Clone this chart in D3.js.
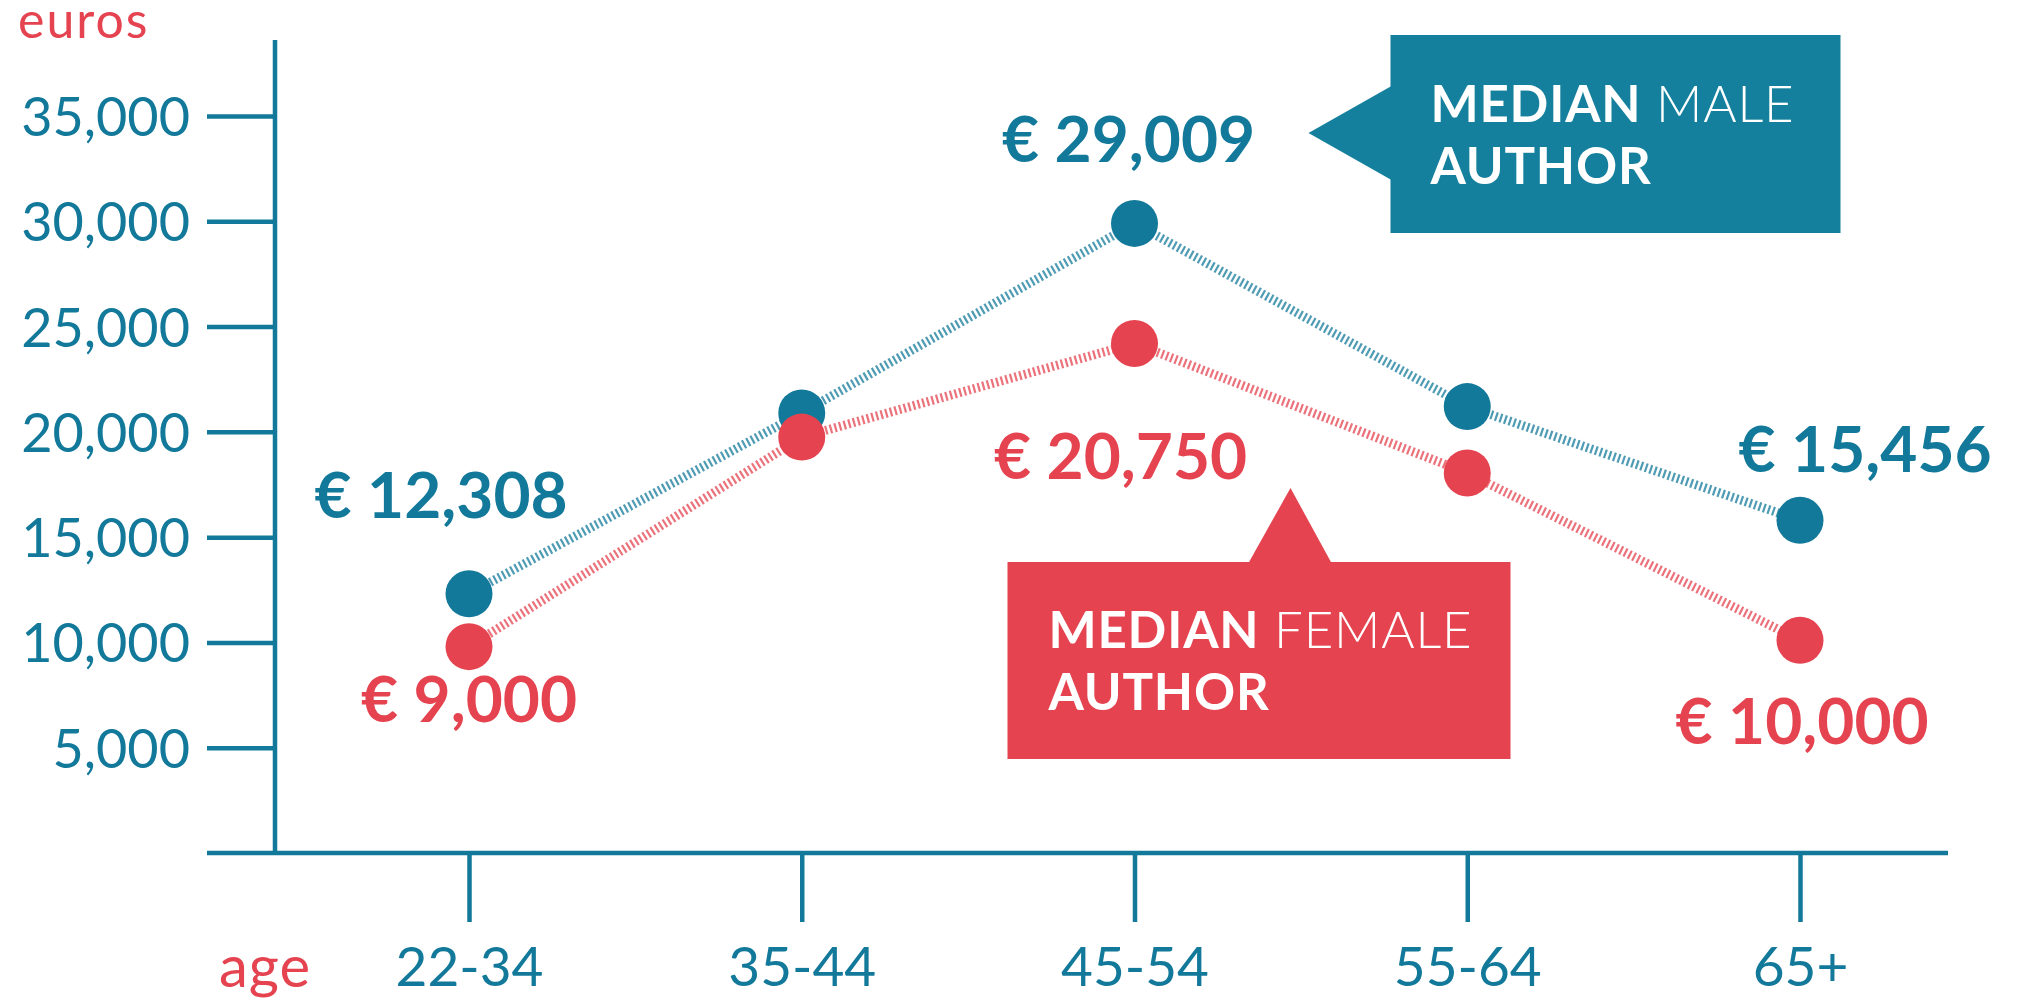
<!DOCTYPE html>
<html>
<head>
<meta charset="utf-8">
<script src="https://cdn.jsdelivr.net/npm/d3@7"></script>
<style>
  body { margin: 0; background: #fff; }
  svg text { font-family: Lato, "Open Sans", sans-serif; }
</style>
</head>
<body>
<div id="chart"></div>
<script>
// data
var ages = ["22-34", "35-44", "45-54", "55-64", "65+"];
var maleValues = [12308, 20900, 29900, 21200, 15800];
var femaleValues = [9800, 19750, 24200, 18050, 10100];
var maleLabels = ["€ 12,308", "", "€ 29,009", "", "€ 15,456"];
var femaleLabels = ["€ 9,000", "", "€ 20,750", "", "€ 10,000"];
var yTicks = [5000, 10000, 15000, 20000, 25000, 30000, 35000];

var teal = "#13799a";
var red = "#e4434f";

var width = 2030, height = 998;

var svg = d3.select("#chart").append("svg")
    .attr("width", width)
    .attr("height", height);

// scales
var x = d3.scalePoint()
    .domain(ages)
    .range([469, 1800]);

var y = d3.scaleLinear()
    .domain([0, 35000])
    .range([853, 116]);

var axisX = 275;       // where the y axis sits
var axisTop = 40;
var axisRight = 1948;
var axisLeft = 207;

// y axis
var yAxis = d3.axisLeft(y)
    .tickValues(yTicks)
    .tickSize(68)
    .tickPadding(17)
    .tickFormat(d3.format(","));

var gy = svg.append("g")
    .attr("class", "y axis")
    .attr("transform", "translate(" + axisX + ",0)")
    .call(yAxis);
gy.select(".domain").remove();
gy.selectAll("line").attr("stroke", teal).attr("stroke-width", 4.5);
gy.selectAll("text")
    .attr("fill", teal)
    .attr("dy", "0.36em")
    .style("font-size", "54px");

// x axis
var xAxis = d3.axisBottom(x)
    .tickSize(69)
    .tickPadding(25);

var gx = svg.append("g")
    .attr("class", "x axis")
    .attr("transform", "translate(0," + y(0) + ")")
    .call(xAxis);
gx.select(".domain").remove();
gx.selectAll("line").attr("stroke", teal).attr("stroke-width", 4.5);
gx.selectAll("text")
    .attr("fill", teal)
    .style("font-size", "55px");

// axis lines
svg.append("line")
    .attr("x1", axisX).attr("x2", axisX)
    .attr("y1", axisTop).attr("y2", y(0))
    .attr("stroke", teal).attr("stroke-width", 4.5);

svg.append("line")
    .attr("x1", axisLeft).attr("x2", axisRight)
    .attr("y1", y(0)).attr("y2", y(0))
    .attr("stroke", teal).attr("stroke-width", 4.5);

// axis titles
svg.append("text")
    .attr("x", 18)
    .attr("y", 38)
    .attr("fill", red)
    .style("font-size", "50px")
    .style("letter-spacing", "2px")
    .text("euros");

svg.append("text")
    .attr("x", 219)
    .attr("y", 987)
    .attr("fill", red)
    .style("font-size", "58px")
    .style("letter-spacing", "1px")
    .text("age");

// series
var series = [
    {name: "male", values: maleValues, labels: maleLabels, color: teal,
     offsets: [[-28, -99], null, [-6, -84], null, [65, -71]]},
    {name: "female", values: femaleValues, labels: femaleLabels, color: red,
     offsets: [[0, 52], null, [-14, 113], null, [2, 81]]}
];

var line = d3.line()
    .x(function(d, i) { return x(ages[i]); })
    .y(function(d) { return y(d); });

// hatched lines first, female under male
series.slice().reverse().forEach(function(s) {
    svg.append("path")
        .datum(s.values)
        .attr("d", line)
        .attr("fill", "none")
        .attr("stroke", s.color)
        .attr("stroke-opacity", 0.75)
        .attr("stroke-width", 9)
        .attr("stroke-dasharray", "2.2,2.6");
});

// dots: male under female (female overlaps at 35-44)
series.forEach(function(s) {
    svg.selectAll(".dot-" + s.name)
        .data(s.values)
        .enter().append("circle")
        .attr("class", "dot-" + s.name)
        .attr("cx", function(d, i) { return x(ages[i]); })
        .attr("cy", function(d) { return y(d); })
        .attr("r", 23.5)
        .attr("fill", s.color);
});

// value labels
var labelSize = 64;
series.forEach(function(s) {
    s.labels.forEach(function(lbl, i) {
        if (!lbl) return;
        var off = s.offsets[i];
        svg.append("text")
            .attr("x", x(ages[i]) + off[0])
            .attr("y", y(s.values[i]) + off[1] + labelSize * 0.36)
            .attr("text-anchor", "middle")
            .attr("fill", s.color)
            .style("font-size", labelSize + "px")
            .style("font-weight", 700)
            .text(lbl);
    });
});

// callout boxes
function callout(box, arrow, color, word, tx, baselines) {
    var g = svg.append("g");
    g.append("rect")
        .attr("x", box[0]).attr("y", box[1])
        .attr("width", box[2]).attr("height", box[3])
        .attr("fill", color);
    g.append("path")
        .attr("d", "M" + arrow.join("L") + "Z")
        .attr("fill", color);
    var t1 = g.append("text")
        .attr("x", tx).attr("y", baselines[0])
        .attr("fill", "#fff")
        .style("font-size", "51px")
        .style("letter-spacing", "0.8px");
    t1.append("tspan").style("font-weight", 700).text("MEDIAN");
    t1.append("tspan").style("font-weight", 300).text(" " + word);
    g.append("text")
        .attr("x", tx).attr("y", baselines[1])
        .attr("fill", "#fff")
        .style("font-size", "51px")
        .style("letter-spacing", "0.8px")
        .style("font-weight", 700)
        .text("AUTHOR");
}

var xMid = x(ages[2]);
callout([xMid + 256, 35, 450, 198],
        [[xMid + 257, 86], [xMid + 174, 133], [xMid + 257, 180]],
        "#15809d", "MALE", xMid + 296, [122, 184]);

callout([xMid - 127, 562, 503, 197],
        [[xMid + 114, 563], [xMid + 156, 488], [xMid + 197, 563]],
        "#e4434f", "FEMALE", xMid - 86, [648, 710]);
</script>
</body>
</html>
